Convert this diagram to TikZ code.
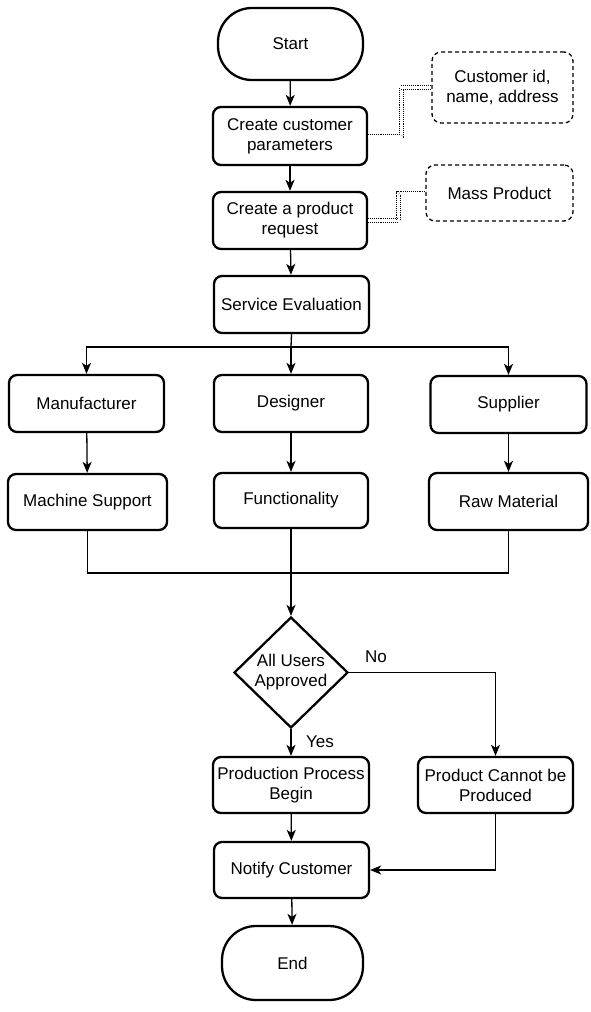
\documentclass[tikz,border=0pt]{standalone}
\usepackage{fontspec}
\setmainfont{Liberation Sans}
\usetikzlibrary{arrows.meta,shapes.geometric}

\tikzset{
  base/.style={draw=black, line width=2.3pt, align=center, inner sep=0pt,
    font=\fontsize{17}{20}\selectfont, text=black},
  stepbox/.style={base, rectangle, rounded corners=8pt},
  term/.style={base, rectangle, rounded corners=34pt},
  notebox/.style={base, rectangle, rounded corners=9pt, line width=1.3pt,
    dash pattern=on 4pt off 3pt},
  decision/.style={base, diamond, aspect=1},
  conn/.style={draw=black, line width=1.3pt},
  flow/.style={conn, -{Stealth[length=11pt, width=9pt, inset=3pt]}},
  link/.style={draw=black, line width=0.9pt, densely dotted, double=white,
    double distance=3pt},
  lbl/.style={font=\fontsize{17}{20}\selectfont, text=black, inner sep=0pt}
}

\begin{document}
\begin{tikzpicture}[x=1pt, y=-1pt]
  \useasboundingbox (0,0) rectangle (590,1012);

  % main column
  \node[term, minimum width=145pt, minimum height=72pt] (start) at (290.5,44) {Start};
  \node[stepbox, minimum width=154pt, minimum height=58pt] (ccp) at (290,136)
    {Create customer\\parameters};
  \node[stepbox, minimum width=154pt, minimum height=57pt] (cpr) at (290,220.5)
    {Create a product\\request};
  \node[stepbox, minimum width=155pt, minimum height=57pt] (se) at (291.5,304.5)
    {Service Evaluation};

  % annotations
  \node[notebox, minimum width=141pt, minimum height=71pt] (cid) at (502.5,87.5)
    {Customer id,\\name, address};
  \node[notebox, minimum width=147pt, minimum height=56pt] (mp) at (499.5,193)
    {Mass Product};

  % three parallel branches
  \node[stepbox, minimum width=155pt, minimum height=57pt] (man) at (86.5,403.5) {Manufacturer};
  \node[stepbox, minimum width=154pt, minimum height=57pt] (des) at (291,403.5) {Designer};
  \node[stepbox, minimum width=156pt, minimum height=57pt] (sup) at (508.5,404.5) {Supplier};
  \node[stepbox, minimum width=159pt, minimum height=56pt] (ms) at (87.5,502) {Machine Support};
  \node[stepbox, minimum width=154pt, minimum height=55pt] (fun) at (291,500.5) {Functionality};
  \node[stepbox, minimum width=159pt, minimum height=57pt] (rm) at (508.5,501.5) {Raw Material};

  % decision and outcomes
  \node[decision, minimum width=114pt, minimum height=111pt] (dec) at (291,672.5)
    {All Users\\Approved};
  \node[stepbox, minimum width=156pt, minimum height=56pt] (pp) at (291,785)
    {Production Process\\Begin};
  \node[stepbox, minimum width=155pt, minimum height=56pt] (pc) at (495.5,785)
    {Product Cannot be\\Produced};
  \node[stepbox, minimum width=155pt, minimum height=56pt] (nc) at (291.5,870)
    {Notify Customer};
  \node[term, minimum width=141pt, minimum height=74pt] (end) at (292.5,963) {End};

  % junction points
  \coordinate (split) at (291,347);
  \coordinate (merge) at (291,573);

  % connectors
  \draw[flow] (start) -- (ccp);
  \draw[flow] (ccp) -- (cpr);
  \draw[flow] (cpr) -- (se);

  \draw[link] (ccp.east) -- ++(33,0) |- (cid.west);
  \draw[link] (cpr.east) -- ++(30,0) |- (mp.west);

  \draw[conn] (se.south) -- (split);
  \draw[flow] (split) -| (man.north);
  \draw[flow] (split) -- (des.north);
  \draw[flow] (split) -| (sup.north);

  \draw[flow] (man) -- (ms);
  \draw[flow] (des) -- (fun);
  \draw[flow] (sup) -- (rm);

  \draw[conn] (ms.south) |- (merge);
  \draw[conn] (rm.south) |- (merge);
  \draw[flow] (fun.south) -- (dec.north);

  \draw[flow] (dec.east) -| (pc.north);
  \node[lbl] (no) at (376,657) {No};
  \draw[flow] (dec.south) -- (pp.north);
  \node[lbl] (yes) at (320,742) {Yes};

  \draw[flow] (pp) -- (nc);
  \draw[flow] (pc.south) |- (nc.east);
  \draw[flow] (nc) -- (end);
\end{tikzpicture}
\end{document}
